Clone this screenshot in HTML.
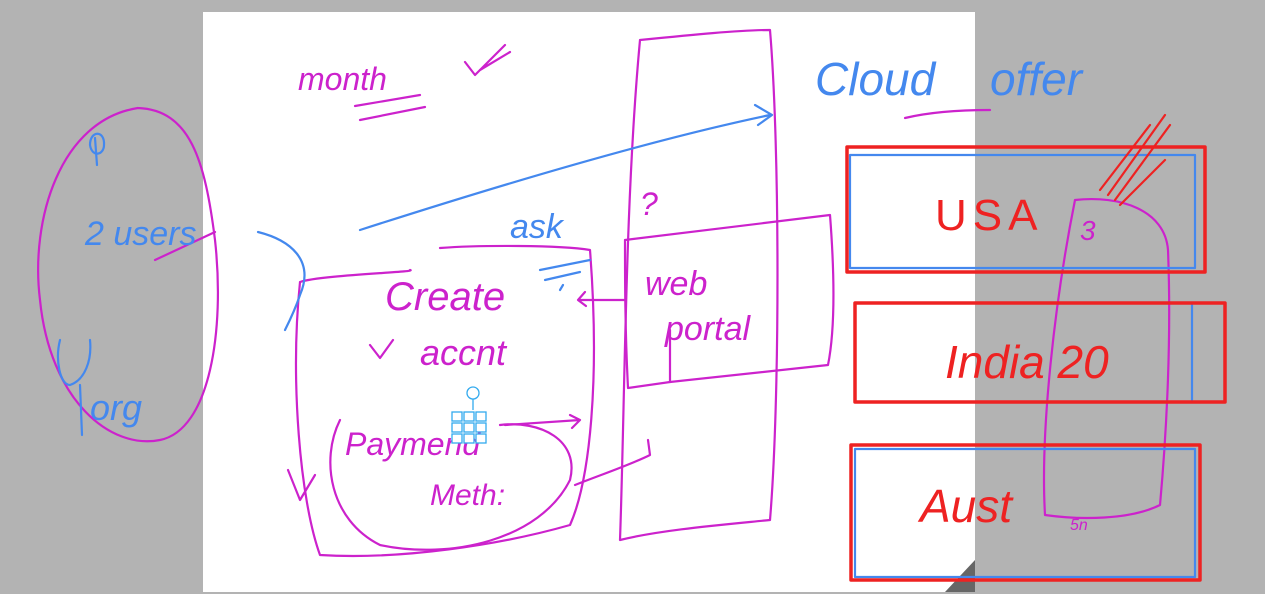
<!DOCTYPE html>
<html><head><meta charset="utf-8"><style>
html,body{margin:0;padding:0;background:#b3b3b3;}
svg{display:block}
text{font-family:"Liberation Sans",sans-serif;}
</style></head><body>
<svg width="1265" height="594" viewBox="0 0 1265 594" xmlns="http://www.w3.org/2000/svg">
<rect x="0" y="0" width="1265" height="594" fill="#b3b3b3"/>
<rect x="203" y="12" width="772" height="580" fill="#ffffff"/>
<polygon points="975,560 975,592 945,592" fill="#666"/>
<g fill="none" stroke-width="2.2" stroke-linecap="round" stroke-linejoin="round">
<!-- magenta strokes -->
<g stroke="#cc22cc">
<path d="M138,108 C60,120 30,220 40,300 C50,400 110,450 160,440 C210,430 225,330 215,240 C205,160 190,110 138,108"/>
<path d="M155,260 L215,232"/>
<path d="M300,282 C320,275 420,272 410,270 M300,282 C290,380 300,500 320,555 C400,560 500,545 570,525 C590,480 600,380 590,250 C560,245 480,245 440,248"/>
<path d="M340,420 C320,460 330,520 380,545 C450,560 540,540 570,480 C580,440 540,420 500,425"/>
<path d="M640,40 C690,35 740,30 770,30 C780,150 780,400 770,520 C720,525 660,530 620,540 C625,400 625,200 640,40"/>
<path d="M625,240 L830,215 C835,280 835,330 828,365 L670,382 L628,388 C625,330 625,280 625,240"/>
<path d="M670,330 L670,382"/>
<path d="M1075,200 C1120,195 1165,210 1168,250 C1172,350 1165,450 1160,505 C1130,520 1080,520 1045,515 C1040,430 1055,300 1075,200"/>
<path d="M905,118 C930,112 960,110 990,110"/>
<path d="M355,106 L420,95 M360,120 L425,107"/>
<path d="M505,425 L580,420 M570,415 L580,420 L572,428" />
<path d="M580,300 L625,300 M585,292 L578,300 L586,306"/>
<path d="M575,485 C600,475 630,465 650,455 L648,440"/>
<path d="M288,470 L300,500 L315,475"/>
<path d="M370,345 L380,358 L393,340"/>
<path d="M465,62 L475,75 L505,45 M480,70 L510,52"/>
</g>
<!-- blue strokes -->
<g stroke="#4488ee">
<path d="M360,230 C500,185 650,140 770,115 M755,105 L772,115 L758,125"/>
<path d="M258,232 C290,240 315,260 300,295 C295,310 290,320 285,330"/>
<path d="M540,270 L590,260 M545,280 L580,272"/>
<path d="M95,138 L97,165 M90,145 C90,130 105,130 104,145 C104,155 92,158 90,145"/>
<path d="M60,340 C55,360 60,385 70,385 C85,380 92,360 90,340 M80,385 L82,435"/>
<path d="M560,290 L563,285"/>
<rect x="850" y="155" width="345" height="113"/>
<path d="M1192,305 L1192,400"/>
<rect x="855" y="449" width="340" height="128"/>
</g>
<!-- red strokes -->
<g stroke="#ee2222" stroke-width="3.5">
<rect x="847" y="147" width="358" height="125"/>
<rect x="855" y="303" width="370" height="99"/>
<rect x="851" y="445" width="349" height="135"/>
</g>
<g stroke="#ee2222">
<path d="M1100,190 L1150,125 M1108,195 L1165,115 M1115,200 L1170,125 M1120,205 L1165,160"/>
</g>
</g>
<g font-size="34" fill="#cc22cc" font-style="italic">
<text x="298" y="90" font-size="32">month</text>
<text x="385" y="310" font-size="40">Create</text>
<text x="420" y="365" font-size="36">accnt</text>
<text x="345" y="455" font-size="32">Paymend</text>
<text x="430" y="505" font-size="30">Meth:</text>
<text x="645" y="295" font-size="34">web</text>
<text x="665" y="340" font-size="34">portal</text>
<text x="1080" y="240" font-size="28">3</text>
<text x="1070" y="530" font-size="16">5n</text>
<text x="640" y="215" font-size="32">?</text>
</g>
<g fill="#4488ee" font-style="italic">
<text x="815" y="95" font-size="46">Cloud</text>
<text x="990" y="95" font-size="46">offer</text>
<text x="85" y="245" font-size="34">2 users</text>
<text x="90" y="420" font-size="36">org</text>
<text x="510" y="238" font-size="34">ask</text>
</g>
<g fill="#ee2222">
<text x="935" y="230" font-size="44" letter-spacing="6">USA</text>
<text x="945" y="378" font-size="46" font-style="italic">India 20</text>
<text x="920" y="522" font-size="46" font-style="italic">Aust</text>
</g>
<!-- small icon -->
<g stroke="#33aaee" fill="#fff" stroke-width="1.3">
<circle cx="473" cy="393" r="6"/>
<line x1="473" y1="399" x2="473" y2="410"/>
<rect x="452" y="412" width="10" height="9"/><rect x="464" y="412" width="10" height="9"/><rect x="476" y="412" width="10" height="9"/>
<rect x="452" y="423" width="10" height="9"/><rect x="464" y="423" width="10" height="9"/><rect x="476" y="423" width="10" height="9"/>
<rect x="452" y="434" width="10" height="9"/><rect x="464" y="434" width="10" height="9"/><rect x="476" y="434" width="10" height="9"/>
</g>
</svg>
</body></html>
